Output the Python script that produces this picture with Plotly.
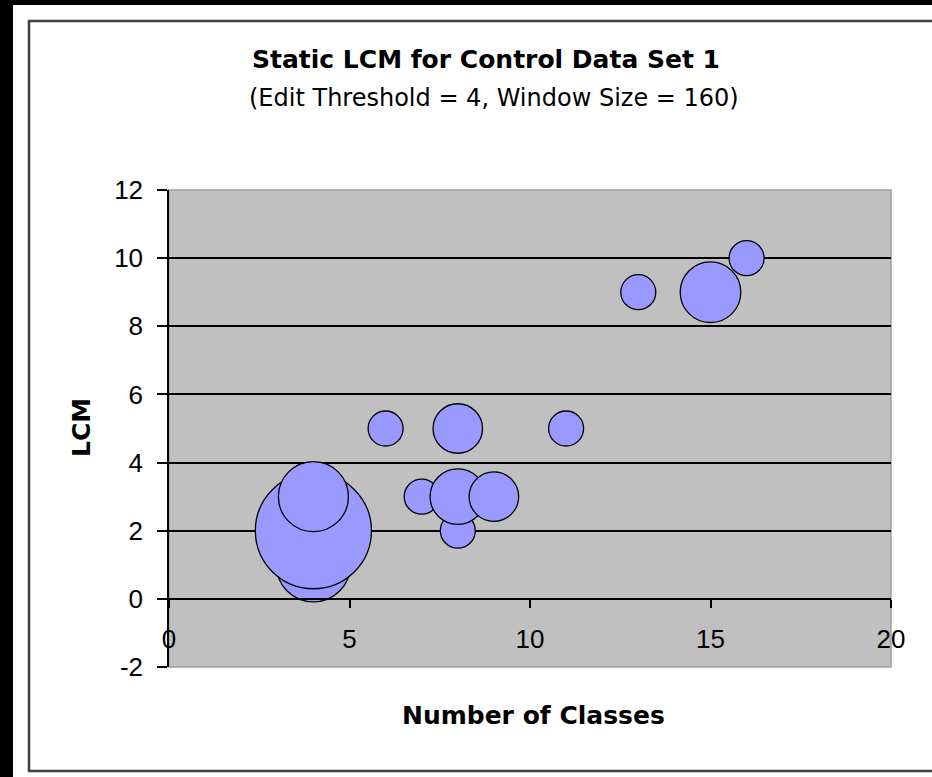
import plotly.graph_objects as go

# Data (sorted by number of classes, then LCM)
num_classes = [4, 4, 4, 6, 7, 8, 8, 8, 9, 11, 13, 15, 16]
lcm = [1, 2, 3, 5, 3, 2, 3, 5, 3, 5, 9, 9, 10]
bubble_size = [4.5, 11, 4, 1, 1, 1, 2.5, 2, 2, 1, 1, 3, 1]

x_ticks = [0, 5, 10, 15, 20]
y_ticks = [-2, 0, 2, 4, 6, 8, 10, 12]
y_tick_labels = ["-2", "0", "2", "4", "6", "8", "10", "12"]
grid_vals = [0, 2, 4, 6, 8, 10]

W, H = 932, 777
L, R, T, B = 169, 41, 190, 110
PW, PH = W - L - R, H - T - B


def px_x(p):
    return (p - L) / PW


def px_y(p):
    return (H - B - p) / PH


fig = go.Figure()
fig.add_trace(go.Scatter(
    x=num_classes, y=lcm, mode="markers",
    marker=dict(size=bubble_size, sizemode="area",
                sizeref=0.5 / 17.5 ** 2, color="#9999FF",
                opacity=1, line=dict(color="#000000", width=1.3)),
    showlegend=False, hoverinfo="x+y"))

# invisible trace to give the overlay axis (gridlines) something to attach to
fig.add_trace(go.Scatter(x=[None], y=[None], yaxis="y2", showlegend=False))

tick_font = dict(family="Liberation Sans, Arial", size=26, color="#000000")

fig.update_layout(
    width=W, height=H,
    margin=dict(l=L, r=R, t=T, b=B, pad=0),
    paper_bgcolor="#FFFFFF",
    plot_bgcolor="#C0C0C0",
    xaxis=dict(range=[0, 20], tickmode="array", tickvals=x_ticks,
               showgrid=False, zeroline=False, showline=True,
               linecolor="#000000", linewidth=1.5,
               ticks="outside", ticklen=8, tickwidth=1.5, tickcolor="#000000",
               tickfont=tick_font, anchor="free", position=2 / 14,
               ticklabelstandoff=9),
    yaxis=dict(range=[-2, 12], tickmode="array", tickvals=y_ticks,
               ticktext=y_tick_labels,
               showgrid=False, zeroline=False, showline=True,
               linecolor="#000000", linewidth=1.5,
               ticks="outside", ticklen=10, tickwidth=1.5, tickcolor="#000000",
               tickfont=tick_font, ticklabelstandoff=9),
    yaxis2=dict(range=[-2, 12], overlaying="y", tickmode="array",
                tickvals=grid_vals, showticklabels=False, ticks="",
                showgrid=True, gridcolor="#000000", gridwidth=1.5,
                zeroline=False, showline=False),
)

shapes = [
    # plot area border
    dict(type="rect", xref="paper", yref="paper", x0=0, x1=1, y0=0, y1=1,
         line=dict(color="#A0A0A0", width=1.5), layer="below"),
    # black strips of the surrounding screenshot
    dict(type="rect", xref="paper", yref="paper",
         x0=px_x(-5), x1=px_x(13), y0=px_y(785), y1=px_y(-5),
         fillcolor="#000000", line=dict(width=0)),
    dict(type="rect", xref="paper", yref="paper",
         x0=px_x(-5), x1=px_x(940), y0=px_y(5), y1=px_y(-5),
         fillcolor="#000000", line=dict(width=0)),
    # chart frame
    dict(type="rect", xref="paper", yref="paper",
         x0=px_x(29), x1=px_x(960), y0=px_y(771), y1=px_y(21),
         line=dict(color="#404040", width=2.5)),
]
fig.update_layout(shapes=shapes)

title_font = dict(family="DejaVu Sans", size=25, color="#000000")
fig.add_annotation(text="<b>Static LCM for Control Data Set 1</b>",
                   xref="paper", yref="paper", x=px_x(486), y=px_y(59),
                   xanchor="center", yanchor="middle", showarrow=False,
                   font=title_font)
fig.add_annotation(text="(Edit Threshold = 4, Window Size = 160)",
                   xref="paper", yref="paper", x=px_x(494), y=px_y(98),
                   xanchor="center", yanchor="middle", showarrow=False,
                   font=dict(family="DejaVu Sans", size=24, color="#000000"))
fig.add_annotation(text="<b>Number of Classes</b>",
                   xref="paper", yref="paper", x=px_x(533), y=px_y(715),
                   xanchor="center", yanchor="middle", showarrow=False,
                   font=title_font)
fig.add_annotation(text="<b>LCM</b>", textangle=-90,
                   xref="paper", yref="paper", x=px_x(81), y=px_y(428),
                   xanchor="center", yanchor="middle", showarrow=False,
                   font=title_font)

fig.write_html(
    "out.html",
    config={"displayModeBar": False},
    post_script="document.body.style.margin='0';"
                "document.body.style.padding='0';"
                "document.body.style.overflow='hidden';")
